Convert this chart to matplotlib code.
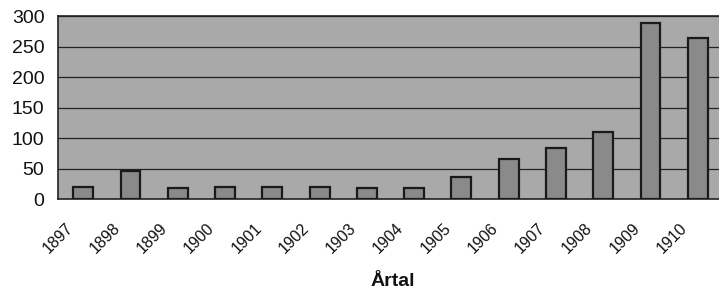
import matplotlib
matplotlib.use('Agg')
import matplotlib.pyplot as plt
import matplotlib.transforms as mtransforms
import numpy as np

# Data
years = ['1897', '1898', '1899', '1900', '1901', '1902', '1903',
         '1904', '1905', '1906', '1907', '1908', '1909', '1910']
values = [20, 46, 18, 19, 20, 19, 18, 18, 36, 65, 83, 110, 289, 264]
yticks = [0, 50, 100, 150, 200, 250, 300]

plt.rcParams['font.family'] = ['Liberation Sans', 'DejaVu Sans']

fig = plt.figure(figsize=(7.19, 2.91), dpi=100)
ax = fig.add_axes([0.081, 0.316, 0.919, 0.629])
ax.set_facecolor('#a9a9a9')

x = np.arange(len(years))
ax.bar(x, values, width=0.42, color='#8a8a8a', edgecolor='#1a1a1a',
       linewidth=1.6, zorder=3)

ax.set_ylim(0, 300)
ax.set_xlim(-0.53, 13.45)
ax.set_yticks(yticks)
ax.set_yticklabels([str(v) for v in yticks], fontsize=14, color='#111111')
ax.yaxis.grid(True, color='#222222', linewidth=0.9, zorder=1)
ax.set_axisbelow(True)
ax.tick_params(axis='y', length=0, pad=10)

# rotated year labels, nudged left like the original
ax.set_xticks(x)
ax.set_xticklabels(years, rotation=45, ha='right', va='center',
                   rotation_mode='anchor', fontsize=11.5, color='#111111')
ax.tick_params(axis='x', length=0, pad=19)
shift = mtransforms.ScaledTranslation(-0.13, 0, fig.dpi_scale_trans)
for lbl in ax.get_xticklabels():
    lbl.set_transform(lbl.get_transform() + shift)

fig.text(393 / 719, 1 - 281 / 291, 'Årtal', fontsize=14, fontweight='bold',
         ha='center', va='center', color='#111111')

for side in ['left', 'top', 'bottom']:
    ax.spines[side].set_color('#222222')
    ax.spines[side].set_linewidth(1.2)
ax.spines['right'].set_visible(False)

plt.savefig('out.png', dpi=100)
plt.close()
